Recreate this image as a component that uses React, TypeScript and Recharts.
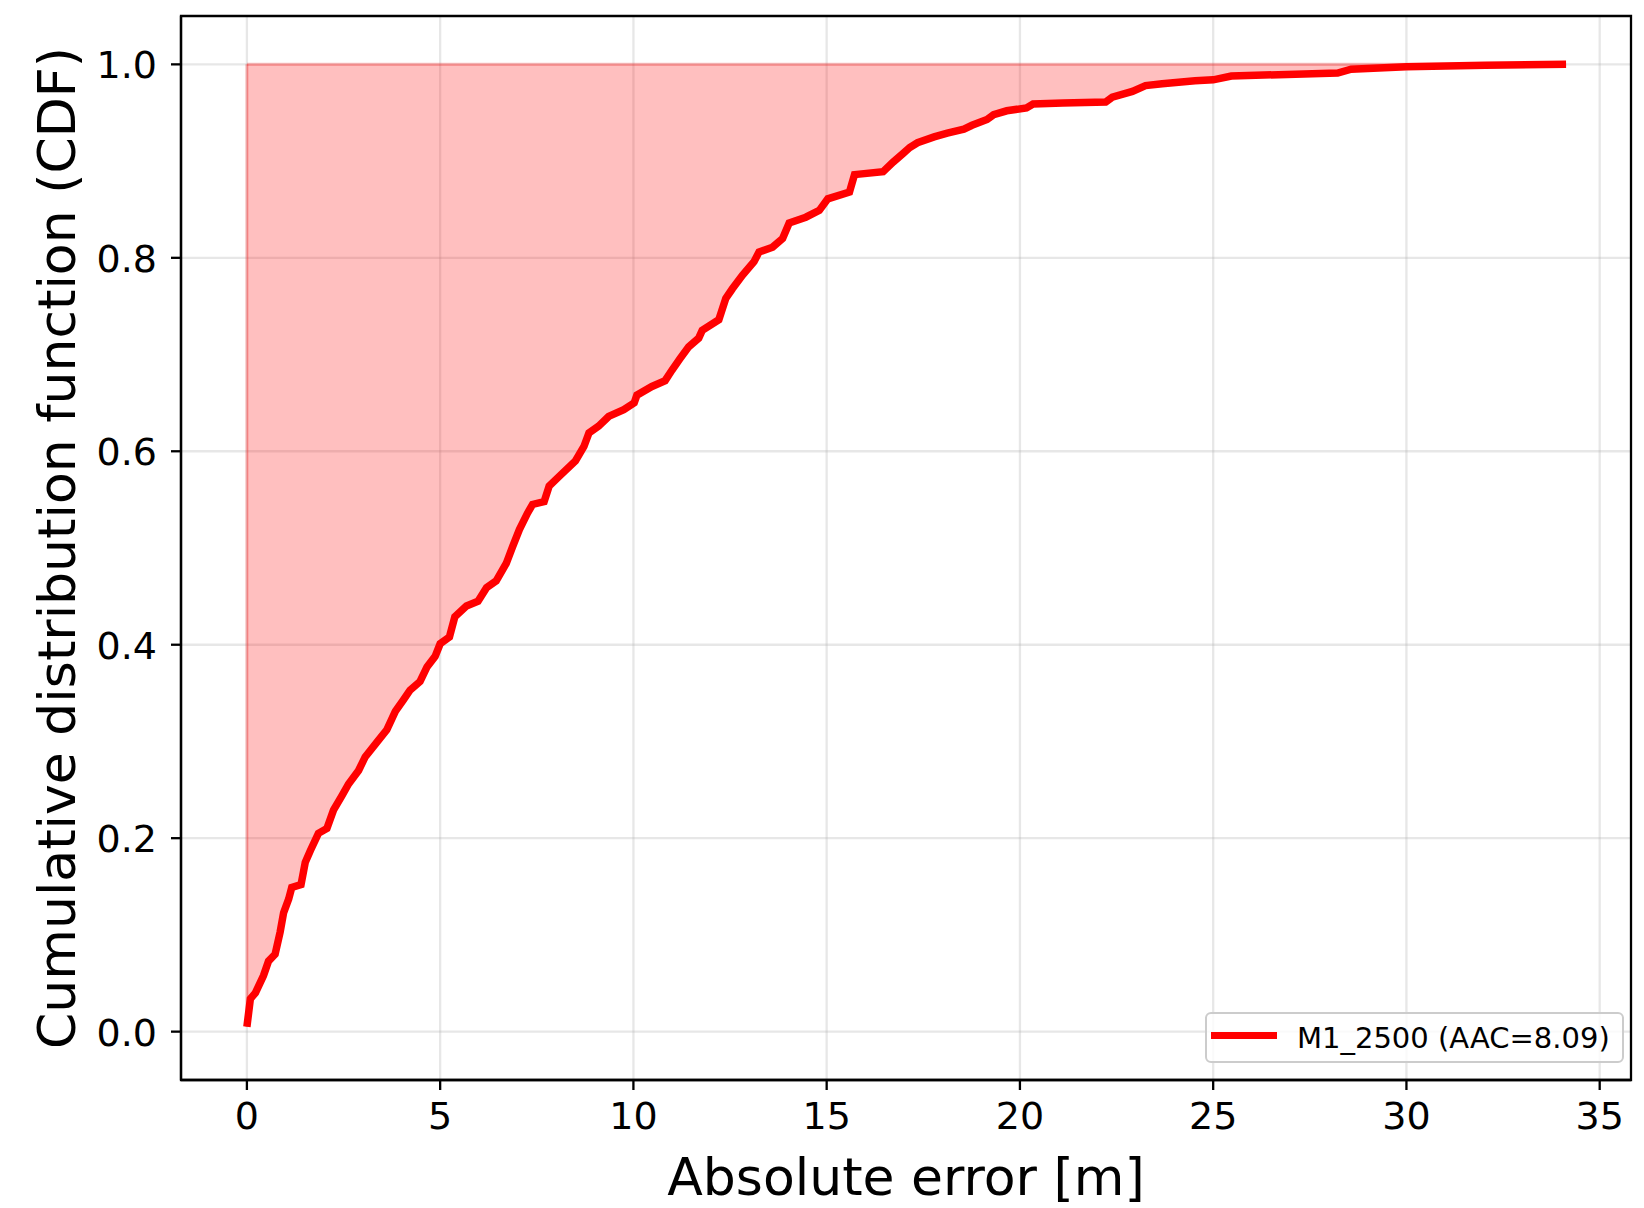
import {
  Area,
  CartesianGrid,
  ComposedChart,
  Label,
  Legend,
  Line,
  ReferenceArea,
  ReferenceLine,
  XAxis,
  YAxis,
} from 'recharts'

// Absolute error [m] (sorted)
const errors = [
  0.0, 0.09, 0.22, 0.43, 0.56, 0.73, 0.86, 0.95, 1.08, 1.16, 1.4, 1.51, 1.64, 1.85, 2.07, 2.24,
  2.46, 2.63, 2.89, 3.06, 3.36, 3.62, 3.84, 4.05, 4.22, 4.48, 4.66, 4.87, 5.0, 5.24, 5.38, 5.68,
  5.98, 6.2, 6.45, 6.71, 6.88, 7.05, 7.26, 7.39, 7.69, 7.82, 8.08, 8.5, 8.72, 8.85, 9.1, 9.36,
  9.75, 10.02, 10.09, 10.48, 10.82, 11.0, 11.21, 11.43, 11.69, 11.78, 12.21, 12.39, 12.56, 12.82,
  13.12, 13.25, 13.6, 13.86, 14.03, 14.46, 14.81, 15.03, 15.59, 15.72, 16.46, 16.72, 16.98, 17.15,
  17.35, 17.78, 18.12, 18.55, 18.76, 19.15, 19.32, 19.66, 20.17, 20.34, 21.11, 22.22, 22.39, 22.91,
  23.25, 23.68, 24.53, 25.0, 25.47, 28.22, 28.57, 30.0, 32.04, 34.13,
]

// CDF at each error
const cdf = [
  0.005, 0.034, 0.04, 0.058, 0.073, 0.08, 0.103, 0.123, 0.137, 0.149, 0.152, 0.175, 0.187, 0.205,
  0.21, 0.229, 0.244, 0.256, 0.27, 0.284, 0.299, 0.312, 0.331, 0.343, 0.353, 0.362, 0.377, 0.388,
  0.401, 0.408, 0.429, 0.44, 0.445, 0.459, 0.466, 0.484, 0.502, 0.519, 0.536, 0.545, 0.548, 0.564,
  0.574, 0.59, 0.605, 0.619, 0.626, 0.636, 0.643, 0.65, 0.658, 0.667, 0.673, 0.684, 0.696, 0.708,
  0.717, 0.725, 0.736, 0.758, 0.768, 0.782, 0.796, 0.806, 0.811, 0.82, 0.836, 0.842, 0.849, 0.861,
  0.868, 0.886, 0.889, 0.899, 0.908, 0.914, 0.919, 0.925, 0.929, 0.933, 0.937, 0.943, 0.948, 0.952,
  0.955, 0.959, 0.96, 0.961, 0.966, 0.972, 0.978, 0.98, 0.983, 0.984, 0.988, 0.991, 0.995, 0.9976,
  0.999, 1.0,
]

const xTicks = [0, 5, 10, 15, 20, 25, 30, 35]
const yTicks = [0, 0.2, 0.4, 0.6, 0.8, 1.0]
const seriesName = 'M1_2500 (AAC=8.09)'

const data = errors.map((x, i) => ({ x, cdf: cdf[i], band: [cdf[i], 1] }))

const FONT = 'DejaVu Sans'
const X_DOMAIN = [-1.705, 35.81]
const Y_DOMAIN = [-0.05, 1.05]

const XTick = (props: any) => (
  <text x={props.x} y={props.y + 29} textAnchor="middle" fontFamily={FONT} fontSize={38} fill="#000">
    {props.payload.value}
  </text>
)

const YTick = (props: any) => (
  <text x={props.x - 4} y={props.y + 14} textAnchor="end" fontFamily={FONT} fontSize={38} fill="#000">
    {Number(props.payload.value).toFixed(1)}
  </text>
)

const LegendBox = () => (
  <div
    style={{
      boxSizing: 'border-box',
      width: 419,
      height: 51,
      border: '2px solid #cccccc',
      borderRadius: 6,
      background: 'rgba(255,255,255,0.8)',
      display: 'flex',
      alignItems: 'center',
      fontFamily: FONT,
      fontSize: 29,
      color: '#000',
    }}
  >
    <div style={{ width: 66, height: 7.5, background: '#ff0000', marginLeft: 4, marginRight: 20, marginTop: -4 }} />
    <span>{seriesName}</span>
  </div>
)

export default function App() {
  return (
    <div style={{ position: 'absolute', left: 0, top: 0, width: 1644, height: 1208, background: '#fff' }}>
      <ComposedChart width={1644} height={1208} data={data} margin={{ top: 16, right: 13, bottom: 0, left: 0 }}>
        <CartesianGrid
          stroke="#b0b0b0"
          strokeOpacity={0.3}
          strokeWidth={2.3}
          horizontalValues={yTicks}
          verticalValues={xTicks}
        />
        <XAxis
          type="number"
          dataKey="x"
          domain={X_DOMAIN}
          ticks={xTicks}
          allowDataOverflow
          height={128}
          tickSize={10}
          tickMargin={10}
          axisLine={{ stroke: '#000', strokeWidth: 2.3 }}
          tickLine={{ stroke: '#000', strokeWidth: 2.3 }}
          tick={<XTick />}
          interval={0}
        >
          <Label
            content={(p: any) => {
              const vb = p.viewBox || { x: 181, width: 1450 }
              return (
                <text x={vb.x + vb.width / 2} y={1195} textAnchor="middle" fontFamily={FONT} fontSize={52} fill="#000">
                  Absolute error [m]
                </text>
              )
            }}
          />
        </XAxis>
        <YAxis
          type="number"
          domain={Y_DOMAIN}
          ticks={yTicks}
          allowDataOverflow
          width={181}
          tickSize={10}
          tickMargin={10}
          axisLine={{ stroke: '#000', strokeWidth: 2.3 }}
          tickLine={{ stroke: '#000', strokeWidth: 2.3 }}
          tick={<YTick />}
          interval={0}
        >
          <Label
            content={(p: any) => {
              const vb = p.viewBox || { y: 16, height: 1064 }
              const cy = vb.y + vb.height / 2
              return (
                <text
                  x={75}
                  y={cy}
                  transform={`rotate(-90, 75, ${cy})`}
                  textAnchor="middle"
                  fontFamily={FONT}
                  fontSize={52}
                  fill="#000"
                >
                  Cumulative distribution function (CDF)
                </text>
              )
            }}
          />
        </YAxis>
        <Area
          type="linear"
          dataKey="band"
          fill="#ff0000"
          fillOpacity={0.25}
          stroke="#ff0000"
          strokeOpacity={0.25}
          strokeWidth={3}
          isAnimationActive={false}
          legendType="none"
          activeDot={false}
        />
        <ReferenceLine
          segment={[
            { x: errors[0], y: cdf[0] },
            { x: errors[0], y: 1 },
          ]}
          stroke="#ff0000"
          strokeOpacity={0.25}
          strokeWidth={3}
        />
        <Line
          type="linear"
          dataKey="cdf"
          name={seriesName}
          stroke="#ff0000"
          strokeWidth={7.5}
          dot={false}
          activeDot={false}
          isAnimationActive={false}
        />
        <ReferenceArea
          x1={X_DOMAIN[0]}
          x2={X_DOMAIN[1]}
          y1={Y_DOMAIN[0]}
          y2={Y_DOMAIN[1]}
          fill="none"
          stroke="#000"
          strokeWidth={2.3}
          fillOpacity={0}
        />
        <Legend
          layout="horizontal"
          verticalAlign="middle"
          align="center"
          wrapperStyle={{ left: 1205, top: 1012, width: 419, height: 51 }}
          content={<LegendBox />}
        />
      </ComposedChart>
    </div>
  )
}
